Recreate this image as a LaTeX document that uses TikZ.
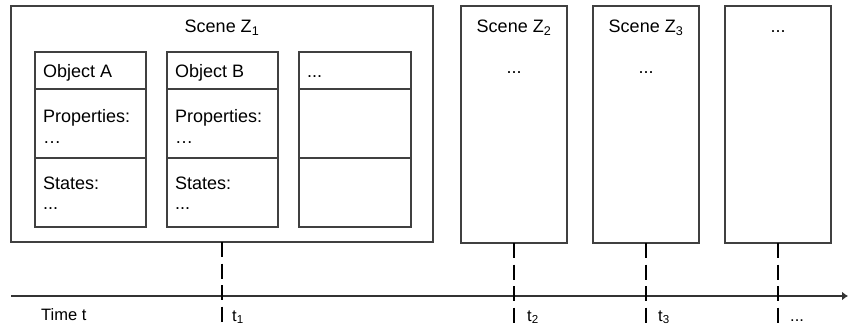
\documentclass[tikz,border=0pt]{standalone}
\usepackage{fontspec}
\setmainfont{Liberation Sans}
\usetikzlibrary{arrows.meta}
\begin{document}
\begin{tikzpicture}[x=1pt,y=-1pt,
  font=\fontsize{18}{21}\selectfont,
  box/.style={draw=black!75, line width=1.1pt, inner sep=0pt, outer sep=0pt, anchor=north west, fill=white},
  txt/.style={anchor=base west, inner sep=0pt},
  ctxt/.style={anchor=base, inner sep=0pt},
  ltxt/.style={anchor=base west, inner sep=0pt, font=\fontsize{16.5}{19}\selectfont},
  dashline/.style={draw=black, line width=2pt, dash pattern=on 15pt off 6.5pt},
  axisline/.style={draw=black!80, line width=1.2pt, -{Latex[length=6pt,width=9pt]}}]
\useasboundingbox (0,0) rectangle (848,326);

% scenes
\node[box, minimum width=422pt, minimum height=236pt] (z1) at (11,6) {};
\node[box, minimum width=106pt, minimum height=237pt] (z2) at (461,6) {};
\node[box, minimum width=106pt, minimum height=237pt] (z3) at (593,6) {};
\node[box, minimum width=106pt, minimum height=237pt] (z4) at (725,6) {};

\node[ctxt] (z1t) at (z1.north |- 0,33) {Scene Z\textsubscript{1}};
\node[ctxt] (z2t) at (z2.north |- 0,33) {Scene Z\textsubscript{2}};
\node[ctxt] (z3t) at (z3.north |- 0,33) {Scene Z\textsubscript{3}};
\node[ctxt] (z4t) at (z4.north |- 0,33) {...};
\node[ctxt] (z2d) at (z2.north |- 0,74) {...};
\node[ctxt] (z3d) at (z3.north |- 0,74) {...};

% objects
\foreach \n/\x/\w in {a/35/111, b/167/111, c/299/112}{
  \node[box, minimum width=\w pt, minimum height=37pt] (\n h) at (\x,52) {};
  \node[box, minimum width=\w pt, minimum height=69pt] (\n p) at (\x,89) {};
  \node[box, minimum width=\w pt, minimum height=69pt] (\n s) at (\x,158) {};
}
\node[txt] (aht) at (43,78) {Object A};
\node[txt] (apt) at (43,122) {Properties:};
\node[txt] (apd) at (43,143) {…};
\node[txt] (ast) at (43,189) {States:};
\node[txt] (asd) at (43,209) {...};
\node[txt] (bht) at (175,78) {Object B};
\node[txt] (bpt) at (175,122) {Properties:};
\node[txt] (bpd) at (175,143) {…};
\node[txt] (bst) at (175,189) {States:};
\node[txt] (bsd) at (175,209) {...};
\node[txt] (cht) at (307,78) {...};

% time axis
\coordinate (ax0) at (11,296);
\coordinate (ax1) at (848,296);
\draw[axisline] (ax0) -- (ax1);

% dashed markers
\foreach \z in {1,2,3,4}{
  \coordinate (e\z) at (z\z.south |- 0,324);
  \draw[dashline] (z\z.south) -- (e\z);
}

% labels
\node[ltxt] (tt) at (41,320) {Time t};
\node[ltxt] (t1) at (232,321) {t\textsubscript{1}};
\node[ltxt] (t2) at (527,321) {t\textsubscript{2}};
\node[ltxt] (t3) at (658,321) {t\textsubscript{3}};
\node[ltxt] (t4) at (790,321) {...};
\end{tikzpicture}
\end{document}
